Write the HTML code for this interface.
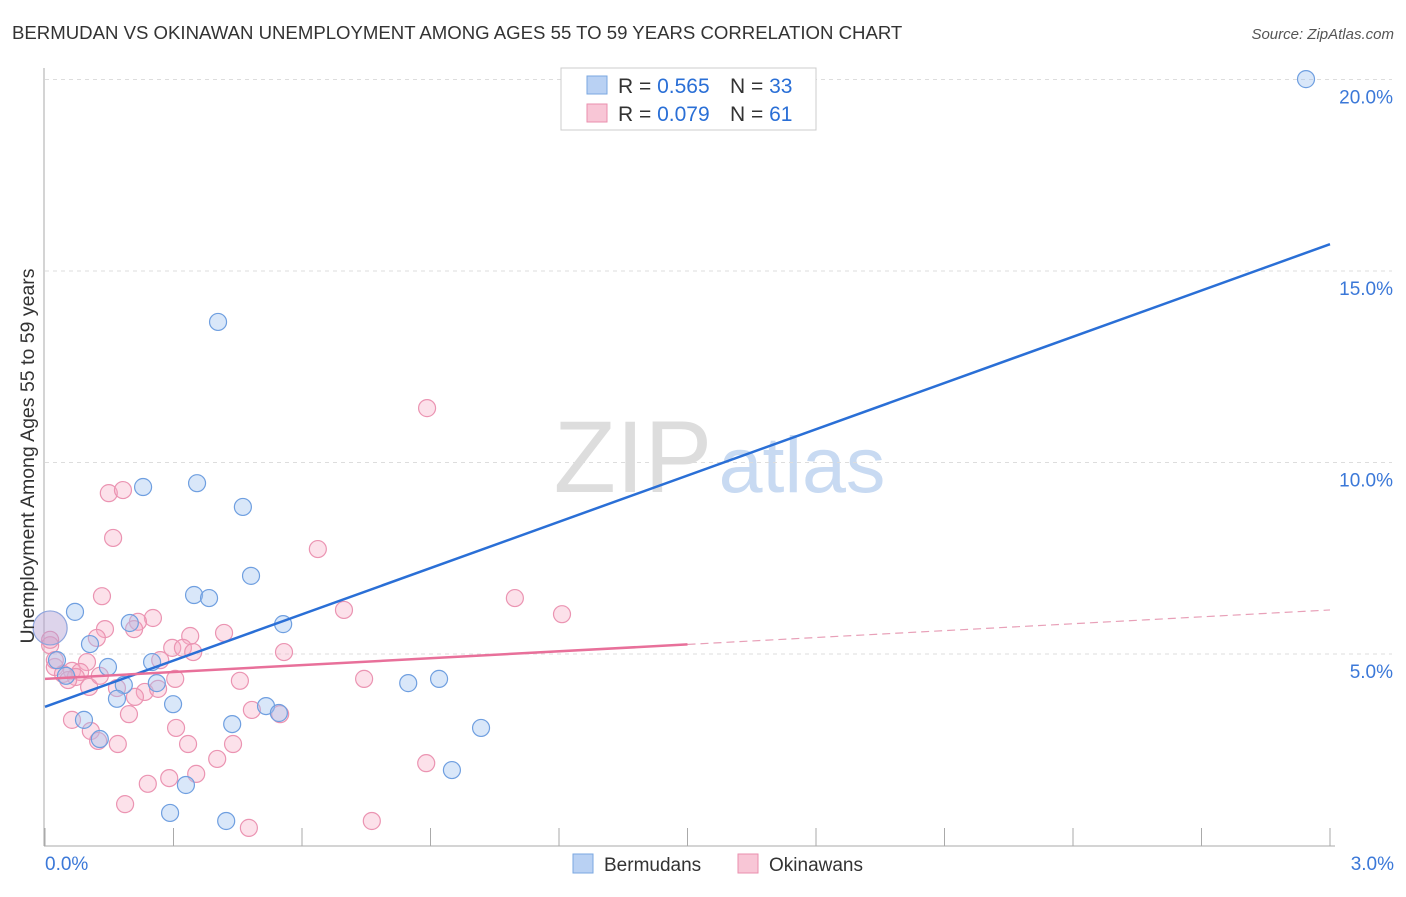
<!DOCTYPE html>
<html><head><meta charset="utf-8"><style>
body{margin:0;background:#fff;font-family:"Liberation Sans",sans-serif;}
svg text{font-family:"Liberation Sans",sans-serif;}
</style></head><body>
<svg id="c" width="1406" height="892" xmlns="http://www.w3.org/2000/svg">
<text x="12" y="39" font-size="18.6" fill="#333">BERMUDAN VS OKINAWAN UNEMPLOYMENT AMONG AGES 55 TO 59 YEARS CORRELATION CHART</text>
<text x="1394" y="39" font-size="15" fill="#555" text-anchor="end" font-style="italic">Source: ZipAtlas.com</text>
<text x="633" y="492" font-size="102" fill="#ddd" font-family="Liberation Serif" text-anchor="middle">ZIP</text>
<text x="802" y="492" font-size="79" fill="#c8daf2" text-anchor="middle">atlas</text>
<g id="grid"></g><g id="pts"></g><g id="lines"></g>
<text transform="translate(34,456) rotate(-90)" font-size="19.5" fill="#333" text-anchor="middle">Unemployment Among Ages 55 to 59 years</text>
<g>
<rect x="561" y="68" width="255" height="62" fill="#fff" stroke="#ccc"/>
<rect x="587" y="76" width="20" height="18" fill="#b9d1f3" stroke="#7aa7e0"/>
<rect x="587" y="104" width="20" height="18" fill="#f8c6d6" stroke="#ea8fae"/>
<text x="618" y="93" font-size="21" fill="#333">R = <tspan fill="#2a6fd6">0.565</tspan></text>
<text x="730" y="93" font-size="21" fill="#333">N = <tspan fill="#2a6fd6">33</tspan></text>
<text x="618" y="121" font-size="21" fill="#333">R = <tspan fill="#2a6fd6">0.079</tspan></text>
<text x="730" y="121" font-size="21" fill="#333">N = <tspan fill="#2a6fd6"> 61</tspan></text>
</g>
<g>
<rect x="573" y="854" width="20" height="19" fill="#b9d1f3" stroke="#7aa7e0"/>
<text x="604" y="871" font-size="19" fill="#333">Bermudans</text>
<rect x="738" y="854" width="20" height="19" fill="#f8c6d6" stroke="#ea8fae"/>
<text x="769" y="871" font-size="19" fill="#333">Okinawans</text>
</g>
</svg>
<script>
const blueX=[2.944,0.404,0.229,0.355,0.462,0.481,0.348,0.383,0.070,0.198,0.556,0.105,0.250,0.147,0.028,0.184,0.261,0.168,0.299,0.516,0.546,0.437,0.091,0.128,0.329,0.292,0.423,0.848,0.920,1.018,0.950,0.049];
const blueY=[20.01,13.67,9.36,9.46,8.84,7.04,6.54,6.46,6.10,5.81,5.78,5.26,4.79,4.66,4.84,4.19,4.24,3.83,3.69,3.64,3.46,3.17,3.28,2.78,1.58,0.85,0.64,4.24,4.35,3.07,1.97,4.43];
const bigX=[0.012];const bigY=[5.68];
const pinkX=[0.892,0.149,0.182,0.159,0.637,0.133,0.698,1.097,1.207,0.252,0.217,0.140,0.208,0.121,0.418,0.339,0.297,0.322,0.346,0.269,0.558,0.012,0.098,0.023,0.063,0.042,0.082,0.072,0.054,0.304,0.455,0.745,0.168,0.103,0.233,0.264,0.210,0.483,0.196,0.063,0.306,0.107,0.124,0.170,0.334,0.439,0.402,0.353,0.290,0.240,0.187,0.476,0.763,0.890,0.012,0.023,0.549,0.128];
const pinkY=[11.42,9.20,9.28,8.03,7.74,6.51,6.15,6.46,6.04,5.94,5.84,5.65,5.65,5.42,5.55,5.47,5.16,5.16,5.05,4.84,5.05,5.23,4.79,4.66,4.56,4.48,4.53,4.40,4.32,4.35,4.30,4.35,4.11,4.14,4.01,4.09,3.88,3.54,3.43,3.28,3.07,2.99,2.73,2.65,2.65,2.65,2.26,1.87,1.76,1.61,1.08,0.46,0.64,2.15,5.37,4.84,3.43,4.43];
const blueFit=[3.62,15.7];
const pinkFit=[4.35,6.15];
const yTicks=[5,10,15,20];
const yTickLabels=["5.0%","10.0%","15.0%","20.0%"];
const xTicks=[0,0.3,0.6,0.9,1.2,1.5,1.8,2.1,2.4,2.7,3.0];
const NS="http://www.w3.org/2000/svg";
const sx=v=>45+v*428.33, sy=v=>845.5-v*38.3;
function mk(p,t,a){const e=document.createElementNS(NS,t);for(const k in a)e.setAttribute(k,a[k]);document.getElementById(p).appendChild(e);return e;}
mk('grid','line',{x1:44,y1:68,x2:44,y2:846,stroke:'#aaa'});
mk('grid','line',{x1:44,y1:846,x2:1335,y2:846,stroke:'#aaa'});
yTicks.forEach((v,i)=>{
 const g=mk('grid','line',{x1:45,x2:1392,y1:sy(v),y2:sy(v),stroke:'#ddd','stroke-dasharray':'4,4'});
 
 
 const t=mk('grid','text',{x:1393,y:sy(v)+24,'font-size':19,fill:'#3b78d8','text-anchor':'end'});
 t.textContent=yTickLabels[i];
 
 
});
xTicks.forEach(v=>{const l=mk('grid','line',{x1:sx(v),x2:sx(v),y1:828,y2:846,stroke:'#aaa'});
 
 });
const x0=mk('grid','text',{x:45,y:870,'font-size':19,fill:'#3b78d8'});x0.textContent="0.0%";


const x1=mk('grid','text',{x:1394,y:870,'font-size':19,fill:'#3b78d8','text-anchor':'end'});x1.textContent="3.0%";


pinkX.forEach((x,i)=>{const c=mk('pts','circle',{cx:sx(x),cy:sy(pinkY[i]),r:8.5,fill:'rgba(245,170,195,0.35)',stroke:'#eb94b2','stroke-width':1.2});
 
 });
blueX.forEach((x,i)=>{const c=mk('pts','circle',{cx:sx(x),cy:sy(blueY[i]),r:8.5,fill:'rgba(160,195,240,0.4)',stroke:'#6f9fe0','stroke-width':1.2});
 
 });
bigX.forEach((x,i)=>{const c=mk('pts','circle',{cx:sx(x),cy:sy(bigY[i]),r:17,fill:'rgba(180,160,210,0.45)',stroke:'#8fa5dd','stroke-width':1.2});
 
 });
const bl=mk('lines','line',{x1:sx(0),y1:sy(blueFit[0]),x2:sx(3),y2:sy(blueFit[1]),stroke:'#2a6fd6','stroke-width':2.5});


const pm=pinkFit[0]+(pinkFit[1]-pinkFit[0])*1.5/3;
const pl=mk('lines','line',{x1:sx(0),y1:sy(pinkFit[0]),x2:sx(1.5),y2:sy(pm),stroke:'#e8709a','stroke-width':2.5});


const pd=mk('lines','line',{x1:sx(1.5),y1:sy(pm),x2:sx(3),y2:sy(pinkFit[1]),stroke:'#e8a0b8','stroke-width':1.2,'stroke-dasharray':'8,5'});


</script>
</body></html>
